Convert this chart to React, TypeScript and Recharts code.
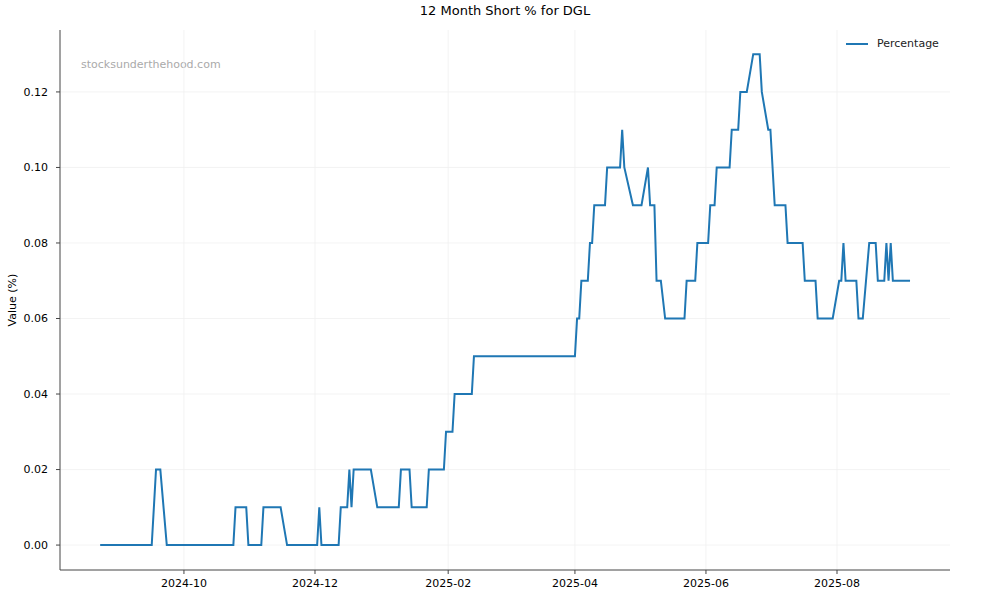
import { CartesianGrid, Line, LineChart, XAxis, YAxis } from 'recharts';

// vertices of the short-% line
const dates = [
    '2024-08-23', '2024-09-16', '2024-09-18', '2024-09-20', '2024-09-23',
    '2024-10-24', '2024-10-25', '2024-10-30', '2024-10-31', '2024-11-06',
    '2024-11-07', '2024-11-15', '2024-11-18', '2024-12-02', '2024-12-03',
    '2024-12-04', '2024-12-12', '2024-12-13', '2024-12-16', '2024-12-17',
    '2024-12-18', '2024-12-19', '2024-12-27', '2024-12-30', '2025-01-09',
    '2025-01-10', '2025-01-14', '2025-01-15', '2025-01-22', '2025-01-23',
    '2025-01-30', '2025-01-31', '2025-02-03', '2025-02-04', '2025-02-12',
    '2025-02-13', '2025-04-01', '2025-04-02', '2025-04-03', '2025-04-04',
    '2025-04-07', '2025-04-08', '2025-04-09', '2025-04-10', '2025-04-15',
    '2025-04-16', '2025-04-22', '2025-04-23', '2025-04-24', '2025-04-28',
    '2025-05-02', '2025-05-05', '2025-05-06', '2025-05-08', '2025-05-09',
    '2025-05-11', '2025-05-13', '2025-05-22', '2025-05-23', '2025-05-27',
    '2025-05-28', '2025-06-02', '2025-06-03', '2025-06-05', '2025-06-06',
    '2025-06-12', '2025-06-13', '2025-06-16', '2025-06-17', '2025-06-20',
    '2025-06-23', '2025-06-26', '2025-06-27', '2025-06-30', '2025-07-01',
    '2025-07-03', '2025-07-08', '2025-07-09', '2025-07-16', '2025-07-17',
    '2025-07-22', '2025-07-23', '2025-07-30', '2025-08-02', '2025-08-03',
    '2025-08-04', '2025-08-05', '2025-08-10', '2025-08-11', '2025-08-13',
    '2025-08-16', '2025-08-19', '2025-08-20', '2025-08-23', '2025-08-24',
    '2025-08-25', '2025-08-26', '2025-08-27', '2025-09-04',
];

const percentages = [
    0, 0, 0.02, 0.02, 0,
    0, 0.01, 0.01, 0, 0,
    0.01, 0.01, 0, 0, 0.01,
    0, 0, 0.01, 0.01, 0.02,
    0.01, 0.02, 0.02, 0.01, 0.01,
    0.02, 0.02, 0.01, 0.01, 0.02,
    0.02, 0.03, 0.03, 0.04, 0.04,
    0.05, 0.05, 0.06, 0.06, 0.07,
    0.07, 0.08, 0.08, 0.09, 0.09,
    0.1, 0.1, 0.11, 0.1, 0.09,
    0.09, 0.1, 0.09, 0.09, 0.07,
    0.07, 0.06, 0.06, 0.07, 0.07,
    0.08, 0.08, 0.09, 0.09, 0.1,
    0.1, 0.11, 0.11, 0.12, 0.12,
    0.13, 0.13, 0.12, 0.11, 0.11,
    0.09, 0.09, 0.08, 0.08, 0.07,
    0.07, 0.06, 0.06, 0.07, 0.07,
    0.08, 0.07, 0.07, 0.06, 0.06,
    0.08, 0.08, 0.07, 0.07, 0.08,
    0.07, 0.08, 0.07, 0.07,
];

const xTickDates = ['2024-10-01', '2024-12-01', '2025-02-01', '2025-04-01', '2025-06-01', '2025-08-01'];
const yTicks = [0, 0.02, 0.04, 0.06, 0.08, 0.1, 0.12];

const toTs = (d: string) => Date.parse(d + 'T00:00:00Z');
const DAY = 86400000;

const data = dates.map((d, i) => ({ t: toTs(d), value: percentages[i] }));
const xTicks = xTickDates.map(toTs);
const xDomain = [toTs('2024-10-01') - 57.7 * DAY, toTs('2024-10-01') + 356.6 * DAY];

const formatMonth = (ts: number) => {
    const d = new Date(ts);
    return `${d.getUTCFullYear()}-${String(d.getUTCMonth() + 1).padStart(2, '0')}`;
};

const FONT = '"DejaVu Sans", sans-serif';
const BLUE = '#1f77b4';

export default function App() {
    return (
        <div style={{ position: 'relative', width: 1000, height: 600, background: '#fff', fontFamily: FONT }}>
            <style>{'body { margin: 0; }'}</style>
            <div style={{ position: 'absolute', top: 3, left: 0, width: 1010, textAlign: 'center', fontSize: 13, color: '#000' }}>
                12 Month Short % for DGL
            </div>
            <div
                style={{
                    position: 'absolute',
                    left: 12,
                    top: 300,
                    transform: 'translate(-50%, -50%) rotate(-90deg)',
                    fontSize: 11,
                    color: '#000',
                    whiteSpace: 'nowrap',
                }}
            >
                Value (%)
            </div>
            <div style={{ position: 'absolute', left: 81, top: 58, fontSize: 11, color: '#aaaaaa' }}>
                stocksunderthehood.com
            </div>
            <div
                style={{
                    position: 'absolute',
                    left: 846,
                    top: 37,
                    display: 'flex',
                    alignItems: 'center',
                    fontSize: 11,
                    color: '#222',
                    zIndex: 2,
                }}
            >
                <div style={{ width: 22, height: 2, background: BLUE, marginRight: 9 }} />
                <span>Percentage</span>
            </div>
            <LineChart width={1000} height={600} data={data} margin={{ top: 30, right: 50, left: 0, bottom: 0 }}>
                {/* grid only at the ticks, no lines on the plot edges */}
                <CartesianGrid stroke="#f0f0f0" strokeWidth={0.8} syncWithTicks />
                <XAxis
                    dataKey="t"
                    type="number"
                    scale="time"
                    domain={xDomain}
                    allowDataOverflow
                    ticks={xTicks}
                    tickFormatter={formatMonth}
                    height={30}
                    tickSize={4}
                    tickMargin={5}
                    stroke="#444"
                    tick={{ fill: '#000', fontSize: 11, fontFamily: FONT }}
                />
                <YAxis
                    type="number"
                    domain={[-0.0066, 0.1364]}
                    allowDataOverflow
                    ticks={yTicks}
                    tickFormatter={(v: number) => v.toFixed(2)}
                    width={60}
                    tickSize={4}
                    tickMargin={8}
                    stroke="#444"
                    tick={{ fill: '#000', fontSize: 11, fontFamily: FONT }}
                />
                <Line
                    type="linear"
                    dataKey="value"
                    stroke={BLUE}
                    strokeWidth={2}
                    dot={false}
                    activeDot={false}
                    isAnimationActive={false}
                />
            </LineChart>
        </div>
    );
}
